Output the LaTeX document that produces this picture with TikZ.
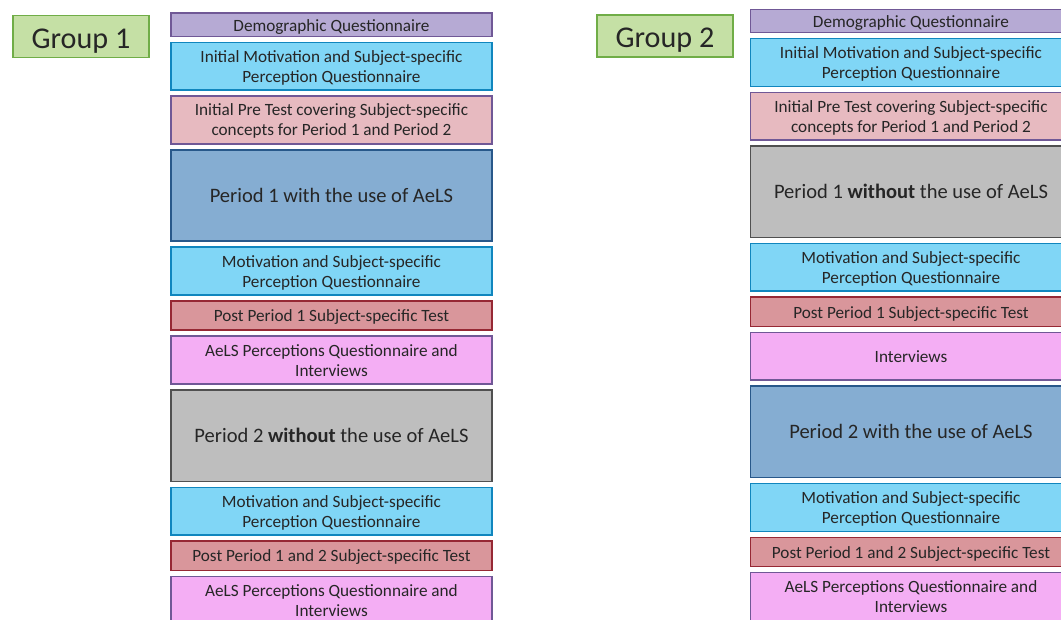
\documentclass[tikz,border=0pt]{standalone}
\usepackage{fontspec}
\setmainfont{Carlito}
\usetikzlibrary{positioning}
\definecolor{demofill}{RGB}{182,170,212}
\definecolor{demoline}{RGB}{112,88,150}
\definecolor{motivfill}{RGB}{128,214,246}
\definecolor{motivline}{RGB}{16,134,190}
\definecolor{prefill}{RGB}{231,186,192}
\definecolor{periodfill}{RGB}{133,173,210}
\definecolor{periodline}{RGB}{40,88,138}
\definecolor{greyfill}{RGB}{190,190,190}
\definecolor{greyline}{RGB}{80,80,80}
\definecolor{postfill}{RGB}{217,150,155}
\definecolor{postline}{RGB}{150,40,52}
\definecolor{aelsfill}{RGB}{244,174,244}
\definecolor{groupfill}{RGB}{197,224,165}
\definecolor{groupline}{RGB}{112,173,71}

\begin{document}
\begin{tikzpicture}[node distance=3.3pt,
    stage/.style={rectangle, draw, line width=1.2pt, minimum width=241pt, align=center, inner sep=1pt, text=black!85, font=\fontsize{12.9}{15}\selectfont},
    demo/.style={stage, fill=demofill, draw=demoline, minimum height=17.5pt, text height=12.5pt},
    motiv/.style={stage, fill=motivfill, draw=motivline, minimum height=35.8pt, text depth=0pt},
    pretest/.style={stage, fill=prefill, draw=demoline, minimum height=35.8pt, text depth=0pt},
    periodwith/.style={stage, fill=periodfill, draw=periodline, minimum height=68.5pt, font=\fontsize{15.4}{18}\selectfont},
    periodwo/.style={periodwith, fill=greyfill, draw=greyline},
    posttest/.style={stage, fill=postfill, draw=postline, minimum height=22pt, text height=11.5pt},
    aels/.style={stage, fill=aelsfill, draw=demoline, minimum height=35.8pt, text depth=0pt},
    group/.style={rectangle, draw=groupline, fill=groupfill, line width=1.2pt, minimum width=102.3pt, minimum height=31pt, text height=21pt, text=black!85, font=\fontsize{22.6}{26}\selectfont}]

    \useasboundingbox (0,0) rectangle (795.75pt,-465pt);

    \node[group] (g1) at (60.75pt,-27.4pt) {Group 1};
    \node[group] (g2) at (498.75pt,-27pt) {Group 2};

    \node[demo, anchor=north] (demo1) at (248.6pt,-9.2pt) {Demographic Questionnaire};
    \node[motiv, below=of demo1] (imot1) {Initial Motivation and Subject-specific\\Perception Questionnaire};
    \node[pretest, below=of imot1] (pre1) {Initial Pre Test covering Subject-specific\\concepts for Period 1 and Period 2};
    \node[periodwith, below=of pre1] (pa1) {Period 1 with the use of AeLS};
    \node[motiv, below=of pa1] (mota1) {Motivation and Subject-specific\\Perception Questionnaire};
    \node[posttest, below=of mota1] (posta1) {Post Period 1 Subject-specific Test};
    \node[aels, below=of posta1] (aelsa1) {AeLS Perceptions Questionnaire and\\Interviews};
    \node[periodwo, below=of aelsa1] (pb1) {Period 2 \textbf{without} the use of AeLS};
    \node[motiv, below=of pb1] (motb1) {Motivation and Subject-specific\\Perception Questionnaire};
    \node[posttest, below=of motb1] (postb1) {Post Period 1 and 2 Subject-specific Test};
    \node[aels, below=of postb1] (aelsb1) {AeLS Perceptions Questionnaire and\\Interviews};

    \node[demo, anchor=north] (demo2) at (683.25pt,-6.4pt) {Demographic Questionnaire};
    \node[motiv, below=of demo2] (imot2) {Initial Motivation and Subject-specific\\Perception Questionnaire};
    \node[pretest, below=of imot2] (pre2) {Initial Pre Test covering Subject-specific\\concepts for Period 1 and Period 2};
    \node[periodwo, below=of pre2] (pa2) {Period 1 \textbf{without} the use of AeLS};
    \node[motiv, below=of pa2] (mota2) {Motivation and Subject-specific\\Perception Questionnaire};
    \node[posttest, below=of mota2] (posta2) {Post Period 1 Subject-specific Test};
    \node[aels, below=of posta2] (inter2) {Interviews};
    \node[periodwith, below=of inter2] (pb2) {Period 2 with the use of AeLS};
    \node[motiv, below=of pb2] (motb2) {Motivation and Subject-specific\\Perception Questionnaire};
    \node[posttest, below=of motb2] (postb2) {Post Period 1 and 2 Subject-specific Test};
    \node[aels, below=of postb2] (aelsb2) {AeLS Perceptions Questionnaire and\\Interviews};
\end{tikzpicture}
\end{document}
